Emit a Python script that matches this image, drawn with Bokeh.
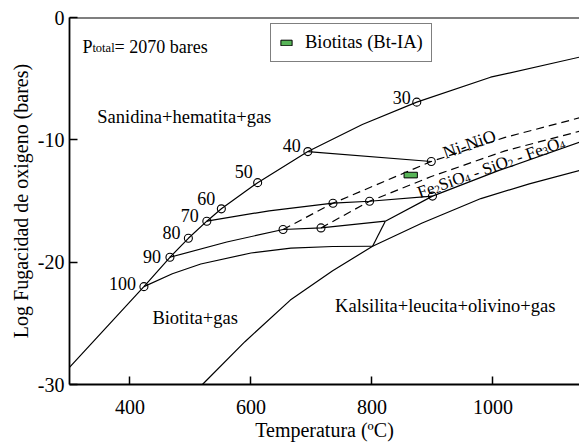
import math
from bokeh.plotting import figure
from bokeh.models import Range1d, FixedTicker, Span, Legend, LegendItem
from bokeh.core.properties import value
from bokeh.embed import file_html
from bokeh.resources import INLINE

FONT = "Liberation Serif"

# ---------------- data ----------------
# Sanidina+hematita+gas boundary
upper_T = [300, 423, 466, 496.5, 527, 551, 611, 694, 784, 874, 996, 1143]
upper_f = [-28.6, -22.0, -19.6, -18.05, -16.65, -15.64, -13.5, -10.96, -8.75, -6.92, -4.88, -3.24]

# composition points on the upper boundary
comp_labels = ["100", "90", "80", "70", "60", "50", "40", "30"]
comp_T = [423, 466, 496.5, 527, 551, 611, 694, 874]
comp_f = [-22.0, -19.6, -18.05, -16.65, -15.64, -13.5, -10.96, -6.92]

# isopleths
iso40_T = [694, 898]
iso40_f = [-10.96, -11.77]
iso70_T = [527, 630, 735.5, 796, 900]
iso70_f = [-16.65, -15.8, -15.18, -15.02, -14.6]
iso90_T = [466, 560, 653, 715.7, 822]
iso90_f = [-19.6, -18.35, -17.33, -17.2, -16.65]
ann_T = [423, 470, 517, 600, 666, 735, 801]
ann_f = [-22.0, -20.95, -20.15, -19.25, -18.85, -18.72, -18.7]

# short link and lower biotite boundary
link_T = [801, 822]
link_f = [-18.7, -16.65]
lowb_T = [822, 900, 1010, 1143]
lowb_f = [-16.65, -14.6, -12.5, -10.2]

# Kalsilita+leucita+olivino+gas boundary
kal_T = [519.7, 590, 665, 735, 801, 883, 980, 1060, 1143]
kal_f = [-30.0, -26.5, -23.1, -20.7, -18.7, -16.8, -14.8, -13.6, -12.5]

# buffers
nno_T = [653, 735.5, 898, 1020, 1143]
nno_f = [-17.33, -15.18, -11.77, -9.8, -8.2]
fmq_T = [715.7, 796, 898, 1020, 1143]
fmq_f = [-17.2, -15.02, -13.0, -10.9, -9.3]

# intersection circles
int_T = [898, 900, 653, 735.5, 715.7, 796]
int_f = [-11.77, -14.6, -17.33, -15.18, -17.2, -15.02]

# biotite sample (Bt-IA)
bt_Tmin = [853]
bt_Tmax = [875]
bt_fmin = [-13.11]
bt_fmax = [-12.65]

x_ticks = [400, 600, 800, 1000]
y_ticks = [-30, -20, -10, 0]
y_tick_labels = ["-30", "-20", "-10", "0"]

# ---------------- figure ----------------
p = figure(width=579, height=446, output_backend="svg", toolbar_location=None,
           x_range=Range1d(300, 1143), y_range=Range1d(-30, 0),
           min_border_left=69, min_border_right=0, min_border_top=17, min_border_bottom=62)
p.background_fill_color = "white"
p.border_fill_color = "white"
p.outline_line_color = None
p.xgrid.visible = False
p.ygrid.visible = False

for ax in (p.xaxis[0], p.yaxis[0]):
    ax.axis_line_width = 1.8
    ax.axis_line_color = "black"
    ax.major_tick_in = 8
    ax.major_tick_out = 0
    ax.major_tick_line_width = 1.5
    ax.minor_tick_line_color = None
    ax.major_label_text_font = FONT
    ax.major_label_text_font_size = "20px"
    ax.major_label_text_color = "black"
    ax.axis_label_text_font = FONT
    ax.axis_label_text_font_size = "20px"
    ax.axis_label_text_font_style = "normal"
    ax.axis_label_text_color = "black"

p.xaxis.ticker = FixedTicker(ticks=x_ticks)
p.yaxis.ticker = FixedTicker(ticks=y_ticks)
p.yaxis.major_label_overrides = {t: l for t, l in zip(y_ticks, y_tick_labels)}
p.xaxis.axis_label = "Temperatura (ºC)"
p.yaxis.axis_label = "Log Fugacidad de oxigeno (bares)"
p.xaxis.major_label_standoff = 15
p.yaxis.major_label_standoff = 5
p.xaxis.axis_label_standoff = 2
p.yaxis.axis_label_standoff = 3

p.add_layout(Span(location=0, dimension="width", line_color="black", line_width=1.8))

LW = 1.2
for xs, ys in [(upper_T, upper_f), (iso40_T, iso40_f), (iso70_T, iso70_f),
               (iso90_T, iso90_f), (ann_T, ann_f), (link_T, link_f),
               (lowb_T, lowb_f), (kal_T, kal_f)]:
    p.line(xs, ys, line_color="black", line_width=LW)

for xs, ys in [(nno_T, nno_f), (fmq_T, fmq_f)]:
    p.line(xs, ys, line_color="black", line_width=LW, line_dash="8 5")

p.scatter(comp_T + int_T, comp_f + int_f, marker="circle", size=8,
          fill_color=None, line_color="black", line_width=1.1)

bt = p.quad(left=bt_Tmin, right=bt_Tmax, bottom=bt_fmin, top=bt_fmax,
            fill_color="#58b558", line_color="black", line_width=1)

# composition labels
dx = [-8, -9, -8, -8, -6, -5, -7, -6]
dy = [-3, -1, -6, -6, -10, -11, -6, -5]
for t, f, lab_, ox, oy in zip(comp_T, comp_f, comp_labels, dx, dy):
    p.text([t], [f], text=[lab_], x_offset=ox, y_offset=oy,
           text_align="right", text_baseline="middle",
           text_font=value(FONT), text_font_size="18px", text_color="black")

def lab(x, y, s, size="18.5px", align="left", angle=0.0):
    p.text([x], [y], text=[s], text_align=align, text_baseline="middle",
           angle=angle, text_font=value(FONT), text_font_size=size,
           text_color="black")

# Times-metric advance widths (em)
W = {"F": .556, "e": .444, "S": .556, "i": .278, "O": .722, " ": .25, "-": .333,
     "N": .722, "P": .556, "t": .278, "o": .5, "a": .444, "l": .278, "=": .564}
def adv(s, size):
    return sum(W.get(c, .5) for c in s) * size

def rich(x, y, pieces, angle=0.0):
    ca, sa = math.cos(angle), math.sin(angle)
    d = 0.0
    for s, size, sub in pieces:
        lead = len(s) - len(s.lstrip(" "))
        d += lead * W[" "] * size
        s2 = s.lstrip(" ")
        ox = d * ca + sub * sa
        oy = -d * sa + sub * ca
        p.text([x], [y], text=[s2], x_offset=ox, y_offset=oy, angle=angle,
               text_align="left", text_baseline="alphabetic",
               text_font=value(FONT), text_font_size=f"{size}px", text_color="black")
        d += adv(s2, size)

lab(346, -8.1, "Sanidina+hematita+gas")
lab(437, -24.6, "Biotita+gas")
lab(739, -23.55, "Kalsilita+leucita+olivino+gas")

ANG = 0.34
rich(918, -11.1, [("Ni-NiO", 18, 0)], ANG)
rich(876, -14.35, [("Fe", 17, 0), ("2", 11, 3), ("SiO", 17, 0), ("4", 11, 3),
                   (" - SiO", 17, 0), ("2", 11, 3), (" - Fe", 17, 0), ("3", 11, 3),
                   ("O", 17, 0), ("4", 11, 3)], ANG)

# P total annotation
rich(321.3, -2.43, [("P", 18, 0), ("total", 12.5, 1), ("= 2070 bares", 18, 0)])

legend = Legend(items=[LegendItem(label="Biotitas (Bt-IA)", renderers=[bt])],
                location=(201, 322), orientation="vertical",
                label_text_font=FONT, label_text_font_size="18.5px",
                label_text_color="black",
                glyph_width=14, glyph_height=7, label_standoff=12,
                padding=8, spacing=0, margin=0,
                border_line_color="black", border_line_width=1.5,
                background_fill_color="white", background_fill_alpha=1.0)
p.add_layout(legend)

open("out.html", "w").write(file_html(p, INLINE))
